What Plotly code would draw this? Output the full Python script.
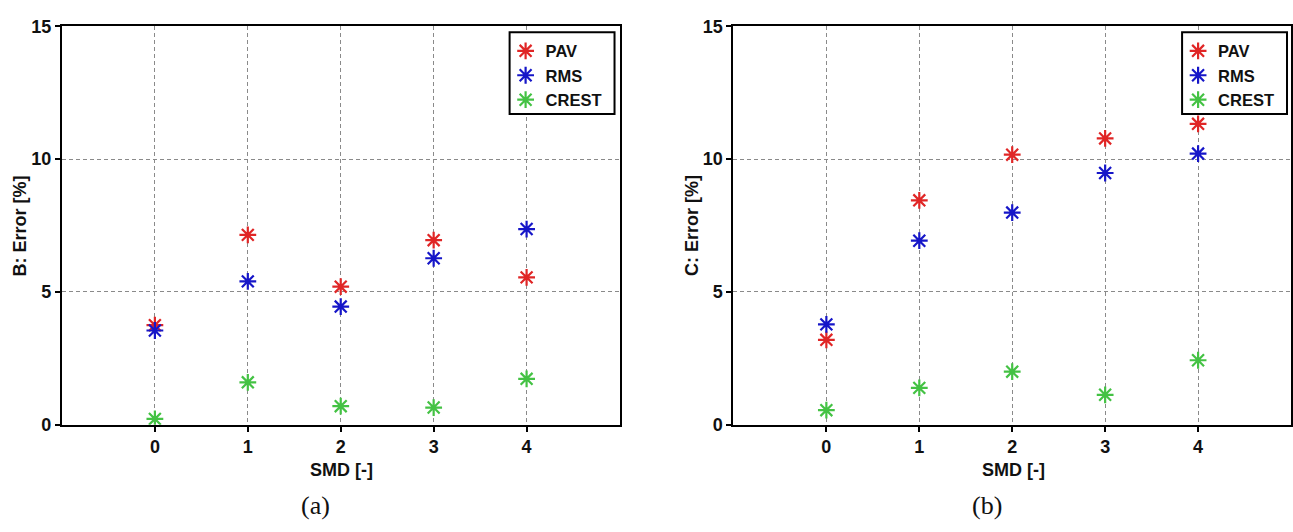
import plotly.graph_objects as go

smd = [0, 1, 2, 3, 4]
x_ticks = [0, 1, 2, 3, 4]
y_ticks = [0, 5, 10, 15]

b_pav = [3.75, 7.15, 5.2, 6.95, 5.55]
b_rms = [3.55, 5.4, 4.45, 6.27, 7.37]
b_crest = [0.22, 1.6, 0.7, 0.65, 1.73]

c_pav = [3.2, 8.45, 10.17, 10.78, 11.33]
c_rms = [3.78, 6.93, 7.99, 9.48, 10.21]
c_crest = [0.55, 1.39, 2.0, 1.13, 2.43]

series_names = ["PAV", "RMS", "CREST"]
colors = ["#e02626", "#1616c8", "#44c244"]

W, H = 1293, 532
FONT = "Liberation Sans"

fig = go.Figure()

def px(v):
    return v / W

def py(v):
    return 1 - v / H

panels = [
    dict(xa="x", ya="y", data=[b_pav, b_rms, b_crest], legend="legend"),
    dict(xa="x2", ya="y2", data=[c_pav, c_rms, c_crest], legend="legend2"),
]

for p in panels:
    for name, vals, col in zip(series_names, p["data"], colors):
        fig.add_trace(go.Scatter(
            x=smd, y=vals, mode="markers", name=name,
            xaxis=p["xa"], yaxis=p["ya"], legend=p["legend"],
            marker=dict(symbol="asterisk-open", size=14, color=col,
                        line=dict(color=col, width=2.2)),
        ))

axis_common = dict(
    showline=True, linecolor="black", linewidth=2, mirror=True,
    ticks="outside", ticklen=5, tickwidth=1.5, tickcolor="black",
    showgrid=True, gridcolor="#8a8a8a", griddash="4px,3px", gridwidth=1.3,
    zeroline=False,
    tickfont=dict(family=FONT, size=18, color="#111111", weight="bold"),
)

left_dom = [px(62), px(620)]
right_dom = [px(734), px(1292)]
ydom = [py(431), py(17)]

legend_font = dict(family=FONT, size=16.5, color="#111111", weight="bold")

fig.update_layout(
    width=W, height=H, autosize=False,
    margin=dict(l=0, r=0, t=0, b=0),
    paper_bgcolor="white", plot_bgcolor="white",
    xaxis=dict(domain=left_dom, range=[-1, 5], tickvals=x_ticks, anchor="y", **axis_common),
    yaxis=dict(domain=ydom, range=[0, 15], tickvals=y_ticks, anchor="x", **axis_common),
    xaxis2=dict(domain=right_dom, range=[-1, 5], tickvals=x_ticks, anchor="y2", **axis_common),
    yaxis2=dict(domain=ydom, range=[0, 15], tickvals=y_ticks, anchor="x2", **axis_common),
    legend=dict(x=px(506), y=py(24.5), xanchor="left", yanchor="top",
                borderwidth=0, bgcolor="rgba(0,0,0,0)", font=legend_font),
    legend2=dict(x=px(1179), y=py(24.5), xanchor="left", yanchor="top",
                 borderwidth=0, bgcolor="rgba(0,0,0,0)", font=legend_font),
    showlegend=True,
)

# legend frames
for x0, x1 in [(510, 615), (1183, 1288)]:
    fig.add_shape(type="rect", xref="paper", yref="paper",
                  x0=px(x0), x1=px(x1), y0=py(108), y1=py(23),
                  line=dict(color="black", width=2), fillcolor="white", layer="above")

title_font = dict(family=FONT, size=18, color="#111111", weight="bold")
cap_font = dict(family="Liberation Serif", size=26, color="#111111")

annots = [
    dict(text="B: Error [%]", x=px(20), y=py(224), textangle=-90, font=title_font),
    dict(text="C: Error [%]", x=px(692), y=py(224), textangle=-90, font=title_font),
    dict(text="SMD [-]", x=px(342), y=py(478), font=title_font),
    dict(text="SMD [-]", x=px(1014), y=py(478), font=title_font),
    dict(text="(a)", x=px(316), y=py(515), font=cap_font),
    dict(text="(b)", x=px(988), y=py(515), font=cap_font),
]
for a in annots:
    fig.add_annotation(xref="paper", yref="paper", showarrow=False,
                       xanchor="center", yanchor="middle", **a)

fig.write_html("out.html")
